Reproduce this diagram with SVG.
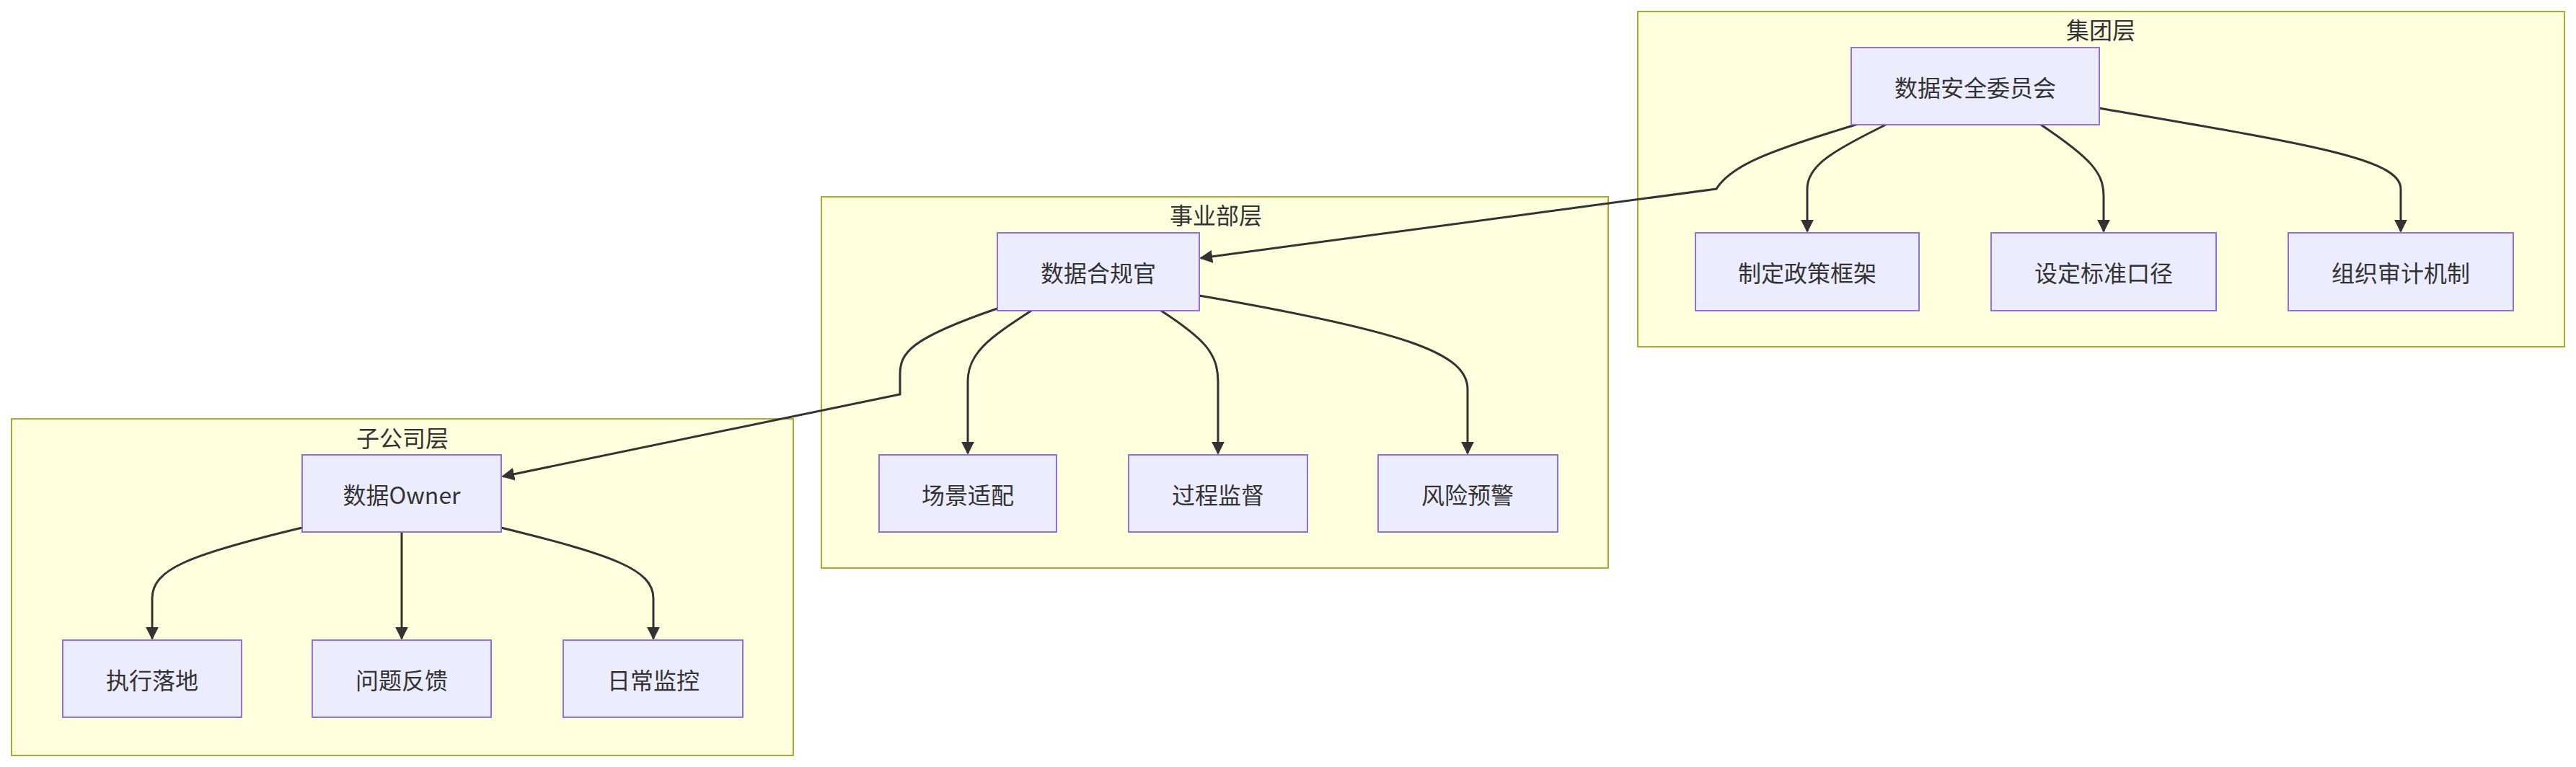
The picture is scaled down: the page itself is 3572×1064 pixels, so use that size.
<svg xmlns="http://www.w3.org/2000/svg" width="3572" height="1064" viewBox="0 0 3572 1064">
<style>
.c{fill:#ffffde;stroke:#aaaa33;stroke-width:2}
.n{fill:#ececff;stroke:#9370db;stroke-width:2}
text{font-family:"Noto Sans CJK SC","Liberation Sans",sans-serif;font-size:32px;fill:#333;text-anchor:middle;dominant-baseline:central}
.e{fill:none;stroke:#333;stroke-width:3;marker-end:url(#a)}
</style>
<defs><marker id="a" viewBox="0 0 10 10" refX="9" refY="5" markerWidth="6" markerHeight="6" orient="auto"><path d="M0,0L10,5L0,10z" fill="#333"/></marker></defs>
<rect width="3572" height="1064" fill="#fff"/>
<g id="cluster-group"><rect class="c" x="2271" y="16" width="1285" height="465"/><text x="2913" y="40">集团层</text></g>
<g id="cluster-div"><rect class="c" x="1139" y="273" width="1091" height="515"/><text x="1686" y="297">事业部层</text></g>
<g id="cluster-sub"><rect class="c" x="16" y="581" width="1084" height="467"/><text x="558" y="606">子公司层</text></g>
<g id="edges">
<path class="e" d="M2580,171 C2450,210 2400,230 2380,262 L1665,358"/>
<path class="e" d="M2615,173 C2540,210 2506,230 2506,262 L2506,321"/>
<path class="e" d="M2830,173 C2900,220 2917,240 2917,272 L2917,321"/>
<path class="e" d="M2911,150 C3200,200 3329,220 3329,262 L3329,321"/>
<path class="e" d="M1383,428 C1260,470 1248,490 1248,520 L1248,547 L697,661"/>
<path class="e" d="M1430,431 C1370,470 1342,490 1342,530 L1342,629"/>
<path class="e" d="M1610,431 C1670,470 1689,490 1689,530 L1689,629"/>
<path class="e" d="M1663,410 C1950,460 2035,490 2035,540 L2035,629"/>
<path class="e" d="M419,732 C260,770 211,790 211,830 L211,886"/>
<path class="e" d="M557,738 L557,886"/>
<path class="e" d="M695,732 C850,770 906,790 906,830 L906,886"/>
</g>
<g id="n1"><rect class="n" x="2567" y="66" width="344" height="107"/><text x="2739" y="120">数据安全委员会</text></g>
<g id="n2"><rect class="n" x="2351" y="323" width="310" height="108"/><text x="2506" y="377">制定政策框架</text></g>
<g id="n3"><rect class="n" x="2761" y="323" width="312" height="108"/><text x="2917" y="377">设定标准口径</text></g>
<g id="n4"><rect class="n" x="3173" y="323" width="312" height="108"/><text x="3329" y="377">组织审计机制</text></g>
<g id="n5"><rect class="n" x="1383" y="323" width="280" height="108"/><text x="1523" y="377">数据合规官</text></g>
<g id="n6"><rect class="n" x="1219" y="631" width="246" height="107"/><text x="1342" y="685">场景适配</text></g>
<g id="n7"><rect class="n" x="1565" y="631" width="248" height="107"/><text x="1689" y="685">过程监督</text></g>
<g id="n8"><rect class="n" x="1911" y="631" width="249" height="107"/><text x="2035" y="685">风险预警</text></g>
<g id="n9"><rect class="n" x="419" y="631" width="276" height="107"/><text x="557" y="685">数据Owner</text></g>
<g id="n10"><rect class="n" x="87" y="888" width="248" height="107"/><text x="211" y="942">执行落地</text></g>
<g id="n11"><rect class="n" x="433" y="888" width="248" height="107"/><text x="557" y="942">问题反馈</text></g>
<g id="n12"><rect class="n" x="781" y="888" width="249" height="107"/><text x="906" y="942">日常监控</text></g>
</svg>
